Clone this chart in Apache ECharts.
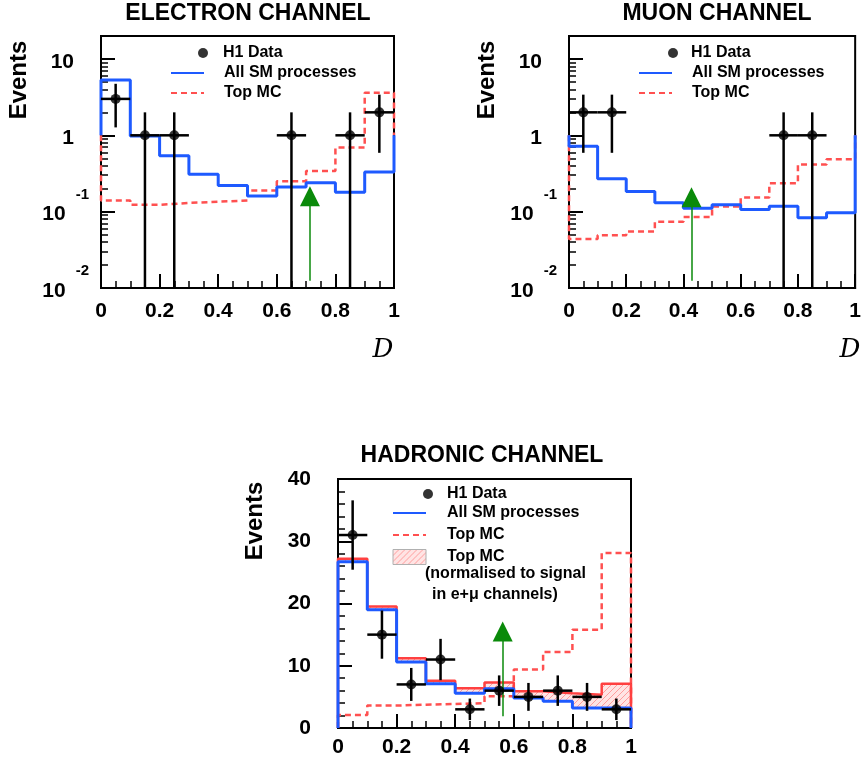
<!DOCTYPE html>
<html>
<head>
<meta charset="utf-8">
<script src="https://cdn.jsdelivr.net/npm/echarts@6/dist/echarts.min.js"></script>
<style>
  html, body { margin: 0; padding: 0; background: #fff; }
  #chart { width: 864px; height: 763px; }
</style>
</head>
<body>
<div id="chart"></div>
<script>
// bins of the discriminant D
const binLow = [0, 0.1, 0.2, 0.3, 0.4, 0.5, 0.6, 0.7, 0.8, 0.9];
const binHalf = 0.05;

// electron channel (log scale)
const eleSM = [5.3, 0.98, 0.54, 0.31, 0.22, 0.16, 0.21, 0.24, 0.18, 0.33];
const eleTop = [0.14, 0.123, 0.13, 0.135, 0.14, 0.19, 0.25, 0.34, 0.69, 3.6];
const eleDataX = [0.05, 0.15, 0.25, 0.65, 0.85, 0.95];
const eleDataY = [3, 1, 1, 1, 1, 2];
const eleDataErr = [1.73, 1, 1, 1, 1, 1.41];
const eleArrow = [0.713, 0.0124, 0.159];

// muon channel (log scale)
const muSM = [0.72, 0.27, 0.183, 0.131, 0.111, 0.123, 0.107, 0.118, 0.083, 0.097];
const muTop = [0.044, 0.049, 0.055, 0.074, 0.085, 0.117, 0.153, 0.235, 0.415, 0.486];
const muDataX = [0.05, 0.15, 0.75, 0.85];
const muDataY = [2, 2, 1, 1];
const muDataErr = [1.41, 1.41, 1, 1];
const muArrow = [0.428, 0.0124, 0.155];

// hadronic channel (linear scale)
const hadSM = [26.7, 19.0, 10.6, 7.1, 5.6, 6.3, 4.8, 4.3, 3.2, 3.2];
const hadSMTop = [27.2, 19.5, 11.2, 7.6, 6.4, 7.3, 5.9, 5.6, 5.35, 7.1];
const hadTop = [2.1, 3.6, 3.75, 3.85, 4.0, 5.1, 9.4, 12.2, 15.8, 28.1];
const hadDataX = [0.05, 0.15, 0.25, 0.35, 0.45, 0.55, 0.65, 0.75, 0.85, 0.95];
const hadDataY = [31, 15, 7, 11, 3, 6, 5, 6, 5, 3];
const hadDataErr = [5.57, 3.87, 2.65, 3.32, 1.73, 2.45, 2.24, 2.45, 2.24, 1.73];
const hadArrow = [0.562, 1.9, 15.5];

// axis ticks
const logMajor = [0.01, 0.1, 1, 10];
const logMinor = [0.02, 0.03, 0.04, 0.05, 0.06, 0.07, 0.08, 0.09,
  0.2, 0.3, 0.4, 0.5, 0.6, 0.7, 0.8, 0.9, 2, 3, 4, 5, 6, 7, 8, 9];

const FONT = '"Liberation Sans", Arial, Helvetica, sans-serif';
const BLUE = '#1e5aff';
const RED = '#ff5050';
const GREEN = '#0a8a0a';

// hatch pattern for the normalised top band
function makeHatch() {
  const c = document.createElement('canvas');
  c.width = 6; c.height = 6;
  const g = c.getContext('2d');
  g.fillStyle = '#ffe4e4';
  g.fillRect(0, 0, 6, 6);
  g.strokeStyle = '#ff9c9c';
  g.lineWidth = 1;
  g.beginPath();
  g.moveTo(0, 6); g.lineTo(6, 0);
  g.moveTo(-1, 1); g.lineTo(1, -1);
  g.moveTo(5, 7); g.lineTo(7, 5);
  g.stroke();
  return c;
}
const hatch = { image: makeHatch(), repeat: 'repeat' };

// histogram outline as step line, closed to an edge level at both ends
function stepData(vals, edge) {
  const d = [[0, edge]];
  vals.forEach((v, i) => d.push([binLow[i], v]));
  d.push([1, vals[vals.length - 1]]);
  d.push([1, edge]);
  return d;
}

function histSeries(name, xi, yi, vals, edge, color, width, type, z) {
  return {
    type: 'line', name: name, xAxisIndex: xi, yAxisIndex: yi,
    data: stepData(vals, edge), step: 'end',
    symbol: 'none', showSymbol: false, z: z,
    itemStyle: { color: color },
    lineStyle: { color: color, width: width, type: type }
  };
}

function errSeries(xi, yi, xs, ys, es, floor) {
  return {
    type: 'custom', xAxisIndex: xi, yAxisIndex: yi, z: 5,
    data: xs.map((x, i) => [x, ys[i], es[i]]),
    renderItem: (params, api) => {
      const x = api.value(0), y = api.value(1), e = api.value(2);
      const lo = Math.max(y - e, floor);
      const a = api.coord([x - binHalf, y]);
      const b = api.coord([x + binHalf, y]);
      const t = api.coord([x, y + e]);
      const d = api.coord([x, lo]);
      return {
        type: 'group', children: [
          { type: 'line', shape: { x1: a[0], y1: a[1], x2: b[0], y2: b[1] }, style: { stroke: '#000', lineWidth: 2.5 } },
          { type: 'line', shape: { x1: t[0], y1: t[1], x2: d[0], y2: d[1] }, style: { stroke: '#000', lineWidth: 2.5 } }
        ]
      };
    }
  };
}

function dataSeries(xi, yi, xs, ys, arrow) {
  return {
    type: 'scatter', name: 'H1 Data', xAxisIndex: xi, yAxisIndex: yi, z: 6,
    data: xs.map((x, i) => [x, ys[i]]),
    symbol: 'circle', symbolSize: 10,
    itemStyle: { color: '#000' },
    markLine: {
      silent: true, animation: false,
      symbol: ['none', 'triangle'], symbolSize: [20, 20],
      label: { show: false },
      lineStyle: { color: GREEN, width: 1.5, type: 'solid' },
      data: [[{ coord: [arrow[0], arrow[1]] }, { coord: [arrow[0], arrow[2]] }]]
    }
  };
}

function xAxis(gi, margin) {
  return {
    type: 'value', gridIndex: gi, min: 0, max: 1, interval: 0.2,
    axisLine: { show: true, onZero: false, lineStyle: { color: '#000', width: 2 } },
    axisTick: { show: true, inside: true, length: 14, lineStyle: { color: '#000', width: 2 } },
    minorTick: { show: true, splitNumber: 4, length: 7, lineStyle: { color: '#000', width: 1.5 } },
    axisLabel: { margin: margin, color: '#000', fontFamily: FONT, fontWeight: 'bold', fontSize: 21 },
    splitLine: { show: false }
  };
}

function logLabel(v) {
  const e = Math.round(Math.log10(v));
  if (e === 1) return '{n|10}{s| }';
  if (e === 0) return '{n|1}{s| }';
  return '{n|10}{e|' + e + '}';
}

function logAxisMajor(gi) {
  return {
    type: 'log', gridIndex: gi, min: 0.01, max: 20, position: 'left',
    axisLine: { show: true, lineStyle: { color: '#000', width: 2 } },
    axisTick: { show: true, inside: true, length: 14, customValues: logMajor, lineStyle: { color: '#000', width: 2 } },
    axisLabel: {
      customValues: logMajor, margin: 12, formatter: logLabel,
      rich: {
        n: { fontFamily: FONT, fontWeight: 'bold', fontSize: 21, color: '#000', padding: [6, 0, 0, 0] },
        e: { fontFamily: FONT, fontWeight: 'bold', fontSize: 15, color: '#000', padding: [0, 0, 34, 10] },
        s: { fontSize: 15, width: 15 }
      }
    },
    splitLine: { show: false }
  };
}

function logAxisMinor(gi) {
  return {
    type: 'log', gridIndex: gi, min: 0.01, max: 20, position: 'left',
    axisLine: { show: false },
    axisTick: { show: true, inside: true, length: 7, customValues: logMinor, lineStyle: { color: '#000', width: 1.5 } },
    axisLabel: { show: false },
    splitLine: { show: false }
  };
}

const legendText = { fontFamily: FONT, fontWeight: 'bold', fontSize: 16, color: '#000' };

function dataLegend(left, top, pad) {
  return {
    orient: 'vertical', left: left, top: top, padding: 0, selectedMode: false,
    itemWidth: 10, itemHeight: 10, data: ['H1 Data'],
    textStyle: Object.assign({ padding: [0, 0, 0, pad] }, legendText)
  };
}

function lineLegend(left, top, pad, gap, data, h) {
  return {
    orient: 'vertical', left: left, top: top, padding: 0, selectedMode: false,
    itemWidth: 33, itemHeight: h, itemGap: gap, data: data,
    itemStyle: { opacity: 0 },
    formatter: n => (n === 'Top MC norm' ? 'Top MC' : n),
    textStyle: Object.assign({ padding: [0, 0, 0, pad] }, legendText)
  };
}

function text(x, y, str, size, extra) {
  return {
    type: 'text', x: x, y: y, silent: true,
    rotation: (extra && extra.rotation) || 0,
    style: Object.assign({
      text: str, fontFamily: FONT, fontWeight: 'bold', fontSize: size,
      fill: '#000', align: 'center', verticalAlign: 'middle'
    }, (extra && extra.style) || {})
  };
}

const chart = echarts.init(document.getElementById('chart'), null, { renderer: 'canvas' });

chart.setOption({
  animation: false,
  backgroundColor: '#fff',
  grid: [
    { left: 101, top: 36, width: 293, height: 252, show: true, borderColor: '#000', borderWidth: 2 },
    { left: 569, top: 36, width: 292, height: 252, show: true, borderColor: '#000', borderWidth: 2 },
    { left: 338, top: 479, width: 293, height: 249, show: true, borderColor: '#000', borderWidth: 2 }
  ],
  xAxis: [xAxis(0, 13), xAxis(1, 13), xAxis(2, 9)],
  yAxis: [
    logAxisMajor(0), logAxisMinor(0),
    logAxisMajor(1), logAxisMinor(1),
    {
      type: 'value', gridIndex: 2, min: 0, max: 40, interval: 10,
      axisLine: { show: true, lineStyle: { color: '#000', width: 2 } },
      axisTick: { show: true, inside: true, length: 14, lineStyle: { color: '#000', width: 2 } },
      minorTick: { show: true, splitNumber: 5, length: 7, lineStyle: { color: '#000', width: 1.5 } },
      axisLabel: { margin: 27, color: '#000', fontFamily: FONT, fontWeight: 'bold', fontSize: 21 },
      splitLine: { show: false }
    }
  ],
  legend: [
    dataLegend(198, 45, 10),
    lineLegend(170, 65, 15, 4, ['All SM processes', 'Top MC'], 14),
    dataLegend(668, 45, 8),
    lineLegend(638, 65, 15, 4, ['All SM processes', 'Top MC'], 14),
    dataLegend(423, 486, 9),
    lineLegend(392, 505, 16, 6, ['All SM processes', 'Top MC',
      { name: 'Top MC norm', icon: 'rect', itemStyle: { color: hatch, opacity: 1, borderColor: '#b0b0b0', borderWidth: 1 } }], 15)
  ],
  graphic: [
    text(248, 14, 'ELECTRON CHANNEL', 23),
    text(717, 14, 'MUON CHANNEL', 23),
    text(482, 456, 'HADRONIC CHANNEL', 23),
    text(19, 80, 'Events', 24, { rotation: Math.PI / 2 }),
    text(487, 80, 'Events', 24, { rotation: Math.PI / 2 }),
    text(255, 521, 'Events', 24, { rotation: Math.PI / 2 }),
    text(383, 350, 'D', 26, { style: { fontFamily: '"DejaVu Serif", "Liberation Serif", serif', fontWeight: 'normal', fontStyle: 'italic' } }),
    text(850, 350, 'D', 26, { style: { fontFamily: '"DejaVu Serif", "Liberation Serif", serif', fontWeight: 'normal', fontStyle: 'italic' } }),
    text(425, 574, '(normalised to signal', 16, { style: { align: 'left' } }),
    text(432, 595, 'in e+\u03bc channels)', 16, { style: { align: 'left' } })
  ],
  series: [
    // electron
    histSeries('Top MC', 0, 0, eleTop, 1, RED, 2.5, [6, 4], 2),
    histSeries('All SM processes', 0, 0, eleSM, 1, BLUE, 3, 'solid', 3),
    errSeries(0, 0, eleDataX, eleDataY, eleDataErr, 0.01),
    dataSeries(0, 0, eleDataX, eleDataY, eleArrow),
    // muon
    histSeries('Top MC', 1, 2, muTop, 1, RED, 2.5, [6, 4], 2),
    histSeries('All SM processes', 1, 2, muSM, 1, BLUE, 3, 'solid', 3),
    errSeries(1, 2, muDataX, muDataY, muDataErr, 0.01),
    dataSeries(1, 2, muDataX, muDataY, muArrow),
    // hadronic
    {
      type: 'custom', name: 'Top MC norm', xAxisIndex: 2, yAxisIndex: 4, z: 1,
      itemStyle: { color: hatch },
      data: binLow.map((x, i) => [x, hadSM[i], hadSMTop[i]]),
      renderItem: (params, api) => {
        const x = api.value(0);
        const lo = api.coord([x, api.value(1)]);
        const hi = api.coord([x + 2 * binHalf, api.value(2)]);
        return {
          type: 'rect',
          shape: { x: lo[0], y: hi[1], width: hi[0] - lo[0], height: lo[1] - hi[1] },
          style: { fill: hatch }
        };
      }
    },
    histSeries('Top MC', 2, 4, hadTop, 0, RED, 2.5, [6, 4], 2),
    histSeries('SM + top', 2, 4, hadSMTop, 0, '#ff4040', 2.5, 'solid', 3),
    histSeries('All SM processes', 2, 4, hadSM, 0, BLUE, 3, 'solid', 4),
    errSeries(2, 4, hadDataX, hadDataY, hadDataErr, 0),
    dataSeries(2, 4, hadDataX, hadDataY, hadArrow)
  ]
});
</script>
</body>
</html>
